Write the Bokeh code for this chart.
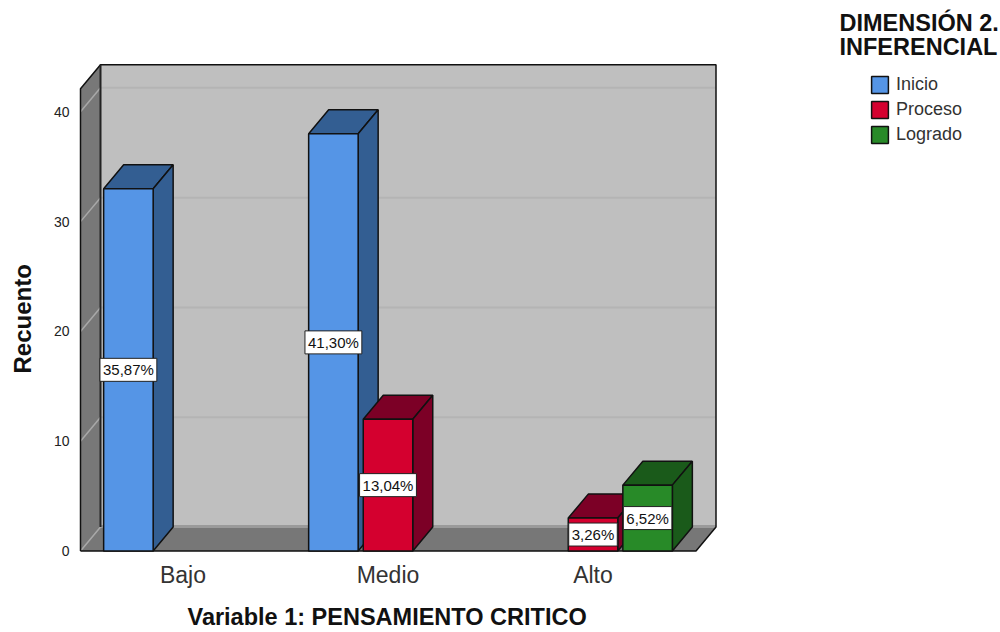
from bokeh.plotting import figure
from bokeh.embed import file_html
from bokeh.resources import INLINE
from bokeh.models import Range1d, FixedTicker, Label, Legend, LegendItem, Title

categories = ["Bajo", "Medio", "Alto"]
series_names = ["Inicio", "Proceso", "Logrado"]
inicio = [33, 38, 0]
proceso = [0, 12, 3]
logrado = [0, 0, 6]
pct_inicio = ["35,87%", "41,30%", None]
pct_proceso = [None, "13,04%", "3,26%"]
pct_logrado = [None, None, "6,52%"]
y_ticks = [0, 10, 20, 30, 40]
front_colors = ["#5595E6", "#D4002F", "#288A28"]
dark_colors = ["#335E92", "#7C0026", "#1A5A1A"]

PX_X = 205.0            # pixels per category
PX_Y = 11.0             # pixels per count
DX = 20 / PX_X          # depth in x units
DY = 24 / PX_Y          # depth in y units
SLOT = 54.6 / PX_X
BAR = 49.5 / PX_X
Y_TOP = 42.1
X0 = -(182.5 - 80) / PX_X   # front-left of floor
X1 = (695.5 - 182.5) / PX_X   # front-right of floor

p = figure(width=1000, height=632, output_backend="svg", toolbar_location=None,
           x_range=Range1d(-(182.5 - 78) / PX_X, (1000 - 182.5) / PX_X),
           y_range=Range1d(-2.5 / PX_Y, -2.5 / PX_Y + 546 / PX_Y),
           min_border_left=78, min_border_right=0, min_border_top=8, min_border_bottom=78,
           outline_line_color=None, background_fill_color="white")
p.grid.visible = False

# walls and floor
p.patch([X0, X0 + DX, X0 + DX, X0], [0, DY, Y_TOP + DY, Y_TOP], fill_color="#787878", line_color=None)
p.patch([X0 + DX, X1 + DX, X1 + DX, X0 + DX], [DY, DY, Y_TOP + DY, Y_TOP + DY], fill_color="#BFBFBF", line_color=None)
p.patch([X0, X0 + DX, X1 + DX, X1], [0, DY, DY, 0], fill_color="#777777", line_color=None)
p.line([X0 + DX, X1 + DX], [DY + 0.05, DY + 0.05], line_color="#9A9A9A", line_width=3)
for t in y_ticks[1:]:
    p.line([X0 + DX, X1 + DX], [t + DY, t + DY], line_color="#B4B4B4", line_width=2)
for t in y_ticks:
    p.line([X0, X0 + DX], [t, t + DY], line_color="#A8A8A8", line_width=1.5)
p.line([X0, X0, X0 + DX, X1 + DX, X1 + DX, X1, X0],
       [0, Y_TOP, Y_TOP + DY, Y_TOP + DY, DY, 0, 0], line_color="#111111", line_width=1.5)
p.line([X0 + DX, X0 + DX], [DY, Y_TOP + DY], line_color="#222222", line_width=2)

# bars
legend_items = []
all_series = [inicio, proceso, logrado]
for s, vals in enumerate(all_series):
    rend = None
    for c, v in enumerate(vals):
        if not v:
            continue
        left = c + (s - 1) * SLOT - BAR / 2
        right = left + BAR
        p.patch([left, left + DX, right + DX, right], [v, v + DY, v + DY, v],
                fill_color=dark_colors[s], line_color="#111111", line_width=1.5)
        p.patch([right, right + DX, right + DX, right], [0, DY, v + DY, v],
                fill_color=dark_colors[s], line_color="#111111", line_width=1.5)
        rend = p.quad(left=[left], right=[right], bottom=[0], top=[v],
                      fill_color=front_colors[s], line_color="#111111", line_width=1.5)
    legend_items.append(LegendItem(label=series_names[s], renderers=[rend]))

# value labels
for s, (vals, texts) in enumerate(zip(all_series, [pct_inicio, pct_proceso, pct_logrado])):
    for c, (v, t) in enumerate(zip(vals, texts)):
        if t:
            p.add_layout(Label(x=c + (s - 1) * SLOT, y=v / 2, text=t,
                               text_align="center", text_baseline="middle",
                               text_font="Liberation Sans", text_font_size="15px",
                               text_color="#111111", background_fill_color="white",
                               border_line_color="#222222", border_line_width=1, padding=3))

# axes
p.yaxis.ticker = FixedTicker(ticks=y_ticks)
p.yaxis.axis_line_color = None
p.yaxis.major_tick_line_color = None
p.yaxis.minor_tick_line_color = None
p.yaxis.major_label_text_font = "Liberation Sans"
p.yaxis.major_label_text_font_size = "14px"
p.yaxis.major_label_text_color = "#222222"
p.yaxis.major_label_standoff = 3
p.xaxis.ticker = FixedTicker(ticks=[0, 1, 2])
p.xaxis.major_label_overrides = {i: c for i, c in enumerate(categories)}
p.xaxis.axis_line_color = None
p.xaxis.major_tick_line_color = None
p.xaxis.minor_tick_line_color = None
p.xaxis.major_label_text_font = "Liberation Sans"
p.xaxis.major_label_text_font_size = "23px"
p.xaxis.major_label_text_color = "#333333"
p.xaxis.major_label_standoff = 2

# axis titles (a blank, small title first moves each one away from its axis)
p.add_layout(Title(text=" ", standoff=0, text_font_size="7px"), "below")
p.add_layout(Title(text="Variable 1: PENSAMIENTO CRITICO", align="left", offset=109, standoff=5,
                   text_font="Liberation Sans", text_font_style="bold",
                   text_font_size="23.5px", text_color="#111111"), "below")
p.add_layout(Title(text=" ", standoff=0, text_font_size="6px"), "left")
p.add_layout(Title(text="Recuento", align="left", offset=180, standoff=13,
                   text_font="Liberation Sans", text_font_style="bold",
                   text_font_size="24px", text_color="#111111"), "left")

# legend
for i, line in enumerate(["DIMENSIÓN 2.", "INFERENCIAL"]):
    p.add_layout(Label(x=X0, y=0, x_offset=759, y_offset=528 - 24 * i, text=line, text_align="left",
                       text_baseline="middle", text_font="Liberation Sans", text_font_style="bold",
                       text_font_size="23.5px", text_color="#111111"))
legend = Legend(items=legend_items, location=(791, 408), orientation="vertical",
                background_fill_alpha=0, border_line_color=None, padding=0, margin=0,
                glyph_width=21, glyph_height=21, spacing=4, label_standoff=6,
                label_text_font="Liberation Sans", label_text_font_size="18px",
                label_text_color="#333333", label_height=21)
p.add_layout(legend)

open("out.html", "w").write(file_html(p, INLINE))
